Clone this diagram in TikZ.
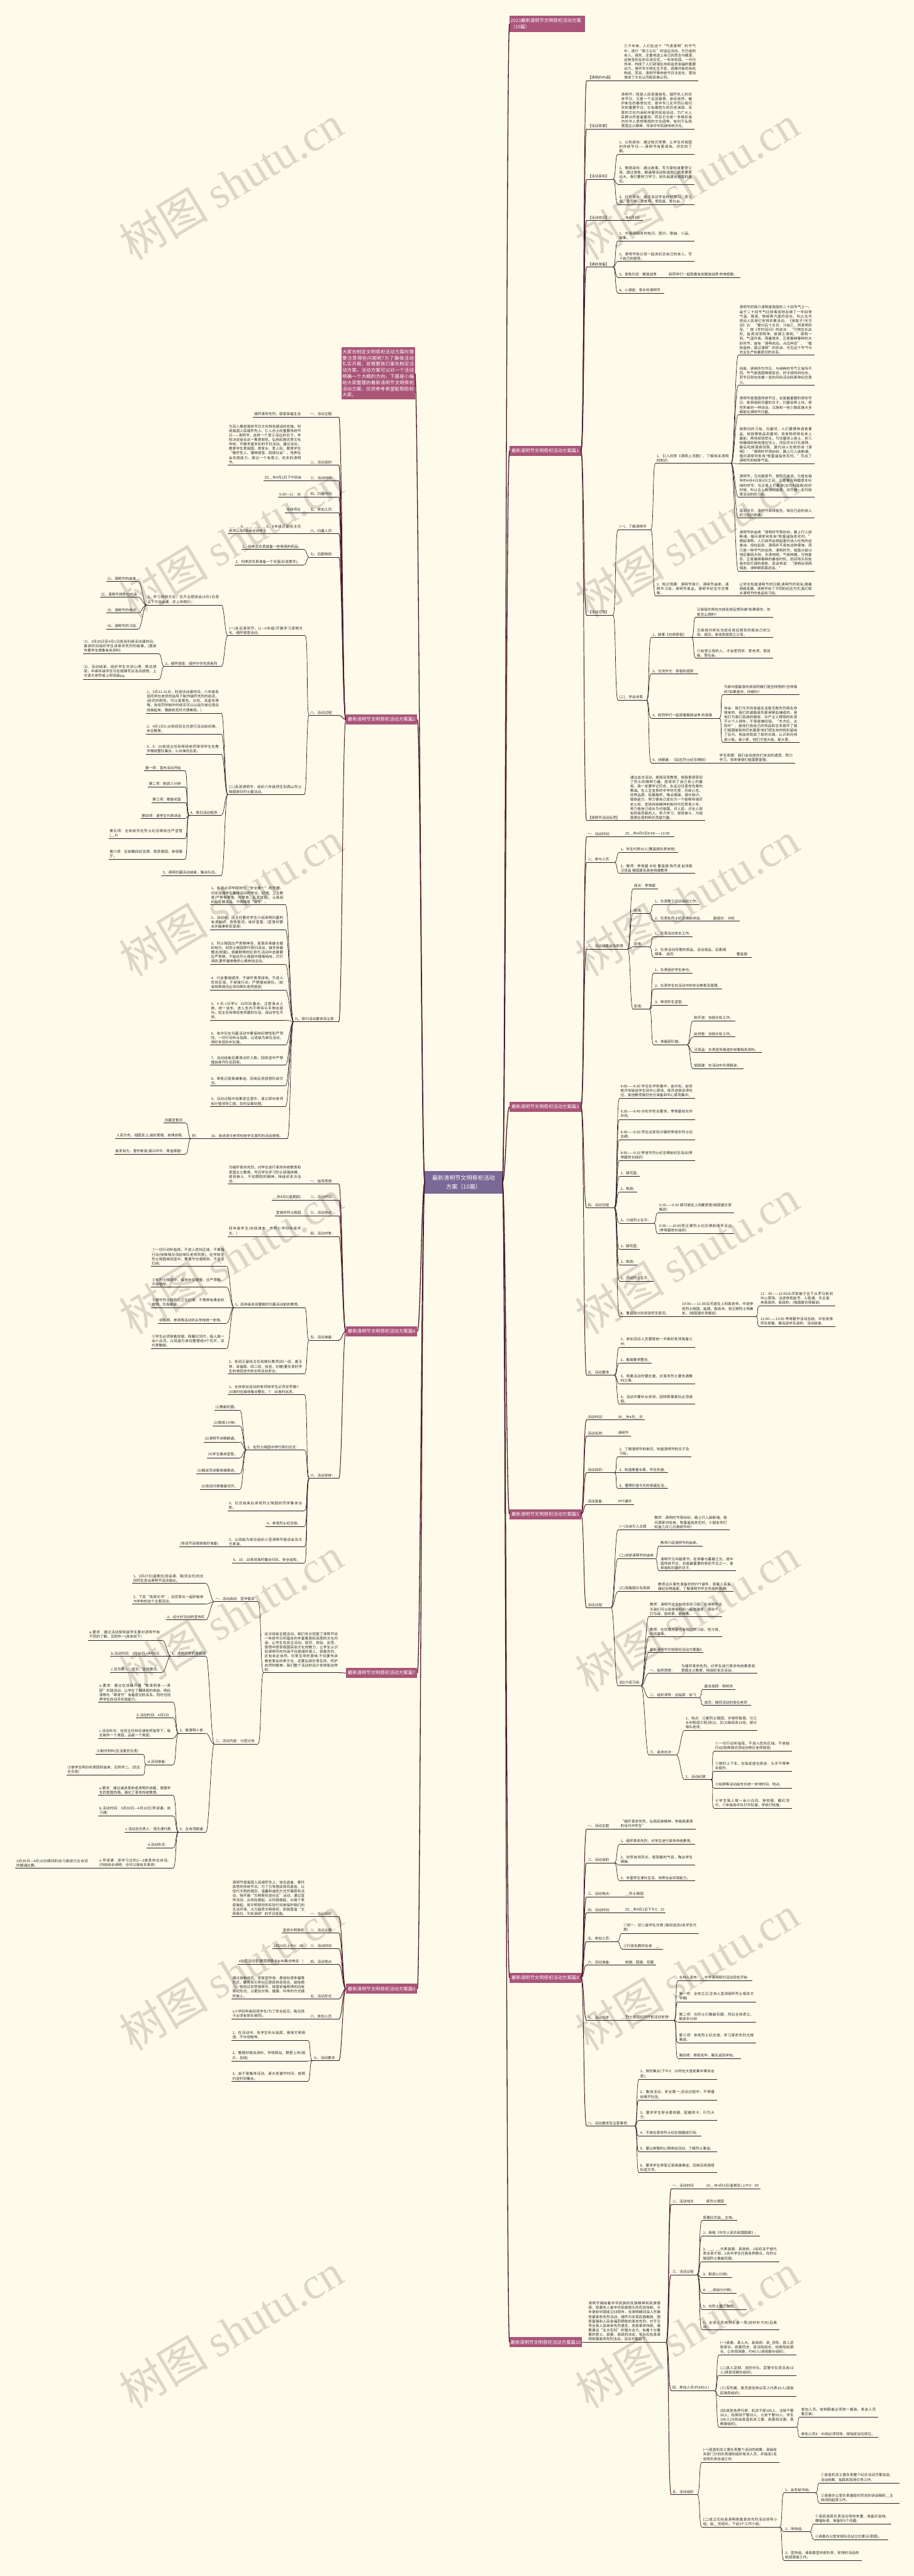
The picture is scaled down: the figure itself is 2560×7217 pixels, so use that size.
\documentclass[tikz,border=0pt]{standalone}
\usepackage{fontspec}
\setmainfont{Noto Sans CJK SC}
\newfontfamily\wmfont{Liberation Serif}
\usetikzlibrary{calc}
\XeTeXlinebreaklocale "zh"
\XeTeXlinebreakskip=0pt plus 1pt
\definecolor{bg}{HTML}{FFFBEB}
\definecolor{pk}{HTML}{AA5578}
\definecolor{pu}{HTML}{7A6896}
\definecolor{ln}{HTML}{4A1B2A}
\definecolor{dk}{HTML}{2B2226}
\definecolor{wm}{HTML}{DAD6C8}
\definecolor{tx}{HTML}{2A2A2A}
\tikzset{
 lf/.style={anchor=south west,inner xsep=0pt,inner ysep=3pt,font=\fontsize{10}{12.6}\selectfont,align=justify,text=tx},
 ls/.style={anchor=south west,inner xsep=0pt,inner ysep=3pt,font=\fontsize{10}{12.6}\selectfont,text=tx},
 ul/.style={draw=dk,line width=1.2pt},
 cn/.style={draw=dk,line width=1.2pt},
 cb/.style={draw=ln,line width=1.7pt},
 mc/.style={draw=ln,line width=2.3pt},
 box/.style={fill=pk,text=white,font=\fontsize{13}{17.5}\selectfont,minimum width=200pt,minimum height=28pt,inner xsep=3pt},
 cbox/.style={fill=pu,text=white,font=\fontsize{16}{24}\selectfont,align=center,minimum width=217pt,minimum height=65pt},
 wmk/.style={text=wm,font=\fontsize{125}{125}\selectfont,rotate=31,inner sep=0pt}
}
\newcommand\Nm[6][]{\def\mytmpw{#1}\ifx\mytmpw\empty\pgfmathsetmacro\mytw{#5-#3-10}\else\def\mytw{#1}\fi
 \node[lf,text width=\mytw pt] (#2) at (#3+3,#4) {#6};
 \draw[ul] (#3,#4) coordinate (#2-l) -- (#5,#4) coordinate (#2-r);}
\newcommand\Ns[5]{\node[ls] (#1) at (#2+3,#3) {#5};
 \draw[ul] (#2,#3) coordinate (#1-l) -- (#4,#3) coordinate (#1-r);}
\newcommand\bx[5]{\node[box,anchor=#2] (#1) at (#3,#4) {#5};
 \coordinate (#1-l) at (#1.west); \coordinate (#1-r) at (#1.east);}
\newcommand\conR[3][cn]{\draw[#1] (#2-r) .. controls +(9,0) and +(-9,0) .. (#3-l);}
\newcommand\conL[3][cn]{\draw[#1] (#2-l) .. controls +(-9,0) and +(9,0) .. (#3-r);}
\begin{document}
\begin{tikzpicture}[x=1pt,y=-1pt]
\useasboundingbox (0,0) rectangle (2560,7217);
\fill[bg] (0,0) rectangle (2560,7217);
% watermarks
\foreach \yy in {512,1515,2518,3521,4524,5527,6530}{
 \node[wmk] at (647,\yy) {树图 {\wmfont shutu.cn}};
 \node[wmk] at (1925,\yy) {树图 {\wmfont shutu.cn}};
}
% center and level-1
\node[cbox] (c) at (1298.5,3312.5) {最新清明节文明祭祀活动\\方案（10篇）};
\coordinate (c-l) at (c.west); \coordinate (c-r) at (c.east);
\node[box,anchor=north west,align=left,text width=206pt,minimum width=212pt,minimum height=47pt] (t0) at (1427,43) {2023最新清明节文明祭祀活动方案\\（10篇）};
\coordinate (t0-l) at (t0.west);
\node[box,anchor=north west,align=justify,text width=200pt,minimum height=146pt,font=\fontsize{13}{17.2}\selectfont] (b0) at (956,973) {大家在制定文明祭祀活动方案时需要注意哪些问题呢?为了确保活动扎实开展，就需要我们事先制定活动方案，活动方案可以对一个活动明确一个大概的方向。下面是小编给大家整理的最新清明节文明祭祀活动方案，仅供参考希望能帮助到大家。};
\coordinate (b0-r) at (b0.east);
\bx{b1}{west}{1427}{1263}{最新清明节文明祭祀活动方案篇1}
\bx{b3}{west}{1427}{3101}{最新清明节文明祭祀活动方案篇3}
\bx{b5}{west}{1427}{4242}{最新清明节文明祭祀活动方案篇5}
\bx{b8}{west}{1427}{5541}{最新清明节文明祭祀活动方案篇8}
\bx{b10}{west}{1427}{6562}{最新清明节文明祭祀活动方案篇10}
\bx{b2}{east}{1169}{2016}{最新清明节文明祭祀活动方案篇2}
\bx{b4}{east}{1169}{3730}{最新清明节文明祭祀活动方案篇4}
\bx{b7}{east}{1169}{4687}{最新清明节文明祭祀活动方案篇7}
\bx{b9}{east}{1169}{5572}{最新清明节文明祭祀活动方案篇9}
\foreach \k in {t0,b1,b3,b5,b8,b10}{\conR[mc]{c}{\k}}
\foreach \k in {b0,b2,b4,b7,b9}{\conL[mc]{c}{\k}}
% ================= 篇1
\Ns{p1a}{1643}{226}{1745}{【清明的内涵】}
\Nm{p1at}{1745}{226}{1956}{几千年来，人们在这个“气清景明”的节气中，进行“祭之以礼”的追远活动，为已逝的亲人、祖先，庄重地送上自己的思念与敬意。这种圣的生命交流仪式，一年年轮回、一代代传承，构成了人们顽强生存和追求幸福的重要动力，是中华文明生生不息、续展开新的有机构成，而且，清明节等传统节日法定化，更加增进了文化认同和民族认同。}
\Ns{p1b}{1643}{361}{1737}{【活动背景】}
\Nm{p1bt}{1737}{361}{1945}{清明节，既是人民祭奠祖先、缅怀先人的宗亲节日，又是一个远足踏青、亲近自然、催护新生的春季仪式，是中华儿女共同认祖归宗的重要节日。它有着悠久的历史渊源、深厚的文化内涵和丰富的民俗活动，为广大人民群众所普遍重视，而且它也是一条维系海内外华人思想情感的文化纽带，有利于弘扬爱国主义精神，传承中华民族传统文化。}
\Ns{p1c}{1643}{502}{1717}{【活动目标】}
\Nm{p1c1}{1731}{432}{1945}{1、认知目标：通过知识竞赛，让学生对我国的传统节日——清明节有更具体、详实的了解。}
\Nm{p1c2}{1731}{516}{1945}{2、情感目标：通过故事、写文章知道要爱父母，通过录象、朗诵等活动知道我们的爱要更远大，我们要努力学习，担负起建设祖国的重任。}
\Nm{p1c3}{1731}{573}{1945}{3、行为目标：通过活动学会好好学习、爱父母、爱同学、爱老师、爱班级、爱社会。}
\Ns{p1d}{1643}{618}{1737}{【活动时间】}
\Ns{p1dt}{1737}{618}{1800}{\_\_年4月1日}
\Ns{p1e}{1643}{748}{1717}{【课前准备】}
\Nm{p1e1}{1731}{675}{1945}{1、与清明相关的知识、图片、歌曲、小品、故事。}
\Nm{p1e2}{1731}{732}{1945}{2、清明节和父母一起去纪念自己的亲人，写下自己的感受。}
\Ns{p1e3}{1731}{777}{1870}{3、录象片段：解放战争}
\Ns{p1e3t}{1870}{777}{2073}{和同学们一起观看有关解放战争 的电视剧。}
\Ns{p1e4}{1731}{821}{1861}{4、小调查：家乡的清明节}
\Ns{p1f}{1643}{1723}{1717}{【活动过程】}
\Ns{p1f1}{1731}{1485}{1823}{(一)、了解清明节}
\Nm{p1f1a}{1836}{1298}{2048}{1、引入欣赏《清明上河图》，了解有关清明的知识。}
\Nm{p1f1a1}{2068}{995}{2281}{清明节的简介清明是我国的二十四节气之一。由于二十四节气比较客观地反映了一年四季气温、降雨、物候等方面的变化，所以古代劳动人民用它安排农事活动。《淮南子?天文训》云：“春分后十五日，斗指乙，则清明风至。”按《岁时百问》的说法：“万物生长此时，皆清洁而明净。故谓之清明。”清明一到，气温升高，雨量增多，正是春耕春种的大好时节，故有“清明前后，点瓜种豆”、“植树造林，莫过清明”的农谚。可见这个节气与农业生产有着密切的关系。}
\Nm{p1f1a2}{2068}{1079}{2281}{但是，清明作为节日，与纯粹的节气又有所不同。节气是我国物候变化、时令顺序的标志，而节日则包含着一定的风俗活动和某种纪念意义。}
\Nm{p1f1a3}{2068}{1162}{2281}{清明节是我国传统节日，也是最重要的祭祀节日，是祭祖和扫墓的日子。扫墓俗称上坟，祭祀死者的一种活动。汉族和一些少数民族大多都是在清明节扫墓。}
\Nm{p1f1a4}{2068}{1299}{2281}{按照旧的习俗，扫墓时，人们要携带酒食果品、纸钱等物品到墓地，将食物供祭在亲人墓前，再将纸钱焚化，为坟墓培上新土，折几枝嫩绿的新枝插在坟上，然后叩头行礼祭拜，最后吃掉酒食回家，唐代诗人杜牧的诗《清明》：“清明时节雨纷纷，路上行人欲断魂。借问酒家何处有?牧童遥指杏花村。”写出了清明节的特殊气氛。}
\Nm{p1f1a5}{2068}{1393}{2281}{清明节，又叫踏青节，按阳历来说，它是在每年的4月4日至6日之间，正是春光明媚草木吐绿的时节，也正是人们春游(古代叫踏青)的好时候，所以古人有清明踏青，并开展一系列体育活动的的习俗。}
\Nm{p1f1a6}{2068}{1451}{2281}{直到今天，清明节祭拜祖先，悼念已逝的亲人的习俗仍很盛。}
\Nm{p1f1a7}{2068}{1600}{2281}{清明节的由来“清明时节雨纷纷，路上行人欲断魂。借问酒家何处有?牧童遥指杏花村。”提起清明，人们自然会想起唐代诗人杜牧的这首诗。但在起初，清明并不具有这种意味，而只是一种节气的名称，清明时节，我国大部分地区春回大地，天清地明，气候转暖，万物复苏，正是春耕春种的最佳时机，田间地头到处是农民忙碌的身影，民谚常说：“清明谷雨两相连，浸种耕田莫迟延。”}
\Nm[202]{p1f1b}{1836}{1670}{2068}{2、知识竞赛：清明节简介，清明节由来，清明节习俗，清明节食品，清明节纪念方式等等。}
\Nm{p1f1bt}{2068}{1670}{2281}{让学生知道清明节的日期;清明节的别名;随着网络发展，清明节有了不同的纪念方式;我们家乡清明节的食品和习俗。}
\Ns{p1f2}{1731}{1962}{1811}{(二)、学会去爱}
\Ns{p1f2a}{1824}{1786}{1937}{1、故事《刘邦祭祖》}
\Nm{p1f2a1}{1949}{1729}{2165}{汉高祖刘邦在功成名就后想到谁?如果是你，你是怎么想的?}
\Nm{p1f2a2}{1949}{1786}{2165}{汉高祖刘邦在功成名就后想到的是自己的父母、祖宗。身体发肤受之父母，}
\Nm{p1f2a3}{1949}{1844}{2165}{只有爱父母的人，才会爱同学、爱老师、爱班级、爱社会。}
\Ns{p1f2b}{1824}{1888}{1956}{2、交流作文：祭祖的感受}
\Ns{p1f2c}{1824}{2012}{2015}{3、和同学们一起观看解放战争 的录像}
\Nm{p1f2c1}{2025}{1946}{2240}{为新中国献身的叔叔阿姨们是怎样想的?怎样做的?如果是你，你敢吗?}
\Nm{p1f2c2}{2025}{2080}{2240}{体会：我们今天的幸福生活是无数先烈用生命换来的，我们的道路是先辈用鲜血铺成的，是他们为我们民族的解放，共产主义理想的实现不计个人得失，不畏艰难险阻。“东方红，太阳升”，是他们用自己的热血和生命掀开了我们祖国崭新的历史篇章!他们把生存的权利留给了后代，用血肉筑成了新的长城，认识到刘邦是小我，是小爱，他们才是大我，是大爱。}
\Ns{p1f2d}{1824}{2137}{2012}{4、诗朗诵：《站在烈士纪念碑前》}
\Nm{p1f2dt}{2012}{2137}{2227}{学生明理：我们会完成你们未完的遗愿，努力学习，将来使我们祖国更富强。}
\Ns{p1g}{1643}{2299}{1762}{【清明节活动反思】}
\Nm{p1gt}{1762}{2299}{1975}{通过这次活动，使我深受教育，使我更感受到了烈士的精神力量，感受到了自己身上的重担。我一定要牢记历史，永远记住革命先辈的教诲。在人生宝贵的中学时光里，历练心志、修养品质、拓展胸怀、陶冶情操、增长知识、锻炼能力，努力使自己成长为一个能够传递历史火炬，发扬传统精神的新时代优秀青少年，努力使自己成长为对祖国、对人民、对全人类有积极贡献的人。努力学习，艰苦奋斗，为祖国更壮丽的明天贡献力量。}
\foreach \k in {p1a,p1b,p1c,p1d,p1e,p1f,p1g}{\conR[cb]{b1}{\k}}
\foreach \k in {p1c1,p1c2,p1c3}{\conR{p1c}{\k}}
\foreach \k in {p1e1,p1e2,p1e3,p1e4}{\conR{p1e}{\k}}
\foreach \k in {p1f1,p1f2}{\conR{p1f}{\k}}
\foreach \k in {p1f1a,p1f1b}{\conR{p1f1}{\k}}
\foreach \k in {p1f1a1,p1f1a2,p1f1a3,p1f1a4,p1f1a5,p1f1a6,p1f1a7}{\conR{p1f1a}{\k}}
\foreach \k in {p1f2a,p1f2b,p1f2c,p1f2d}{\conR{p1f2}{\k}}
\foreach \k in {p1f2a1,p1f2a2,p1f2a3}{\conR{p1f2a}{\k}}
\foreach \k in {p1f2c1,p1f2c2}{\conR{p1f2c}{\k}}
% ================= 篇3
\Ns{p3a}{1643}{2344}{1748}{一、活动时间：}
\Ns{p3at}{1748}{2344}{1888}{20\_\_年4月5日8:00——13:00}
\Ns{p3b}{1643}{2416}{1721}{二、参与人员}
\Ns{p3b1}{1735}{2388}{1900}{1、学生代表10人(曹昌银负责安排)}
\Nm{p3b2}{1735}{2447}{1947}{2、教师：李常碧 许松 曹昌银 陈开进 赵世乾 汪贤品 喻国建及其他特邀教师}
\Ns{p3c}{1643}{2659}{1758}{三、活动组委会及职责}
\Ns{p3c1}{1773}{2490}{1843}{组长：李常碧}
\Ns{p3c2}{1773}{2559}{1819}{职责：}
\Ns{p3c2a}{1831}{2535}{1960}{1、负责整个活动组织工作;}
\Ns{p3c2b}{1831}{2580}{1995}{2、负责在烈士纪念碑前讲话。}
\Ns{p3c2bt}{1995}{2580}{2072}{副组长：许松}
\Ns{p3c3}{1773}{2653}{1819}{职责：}
\Ns{p3c3a}{1831}{2624}{1940}{1、负责活动安全工作;}
\Nm[200]{p3c3b}{1831}{2682}{2060}{2、负责活动所需的祭品、活动用品、后勤保障等。 成员：}
\Ns{p3c3bt}{2060}{2682}{2106}{曹昌银}
\Ns{p3c4}{1773}{2827}{1819}{职责：}
\Ns{p3c4a}{1831}{2726}{1940}{1、负责组织学生参与;}
\Ns{p3c4b}{1831}{2771}{2023}{2、负责学生在活动中的安全教育及管理;}
\Ns{p3c4c}{1831}{2816}{1925}{3、带领学生宣誓;}
\Ns{p3c4d}{1831}{2927}{1925}{4、准备团队旗。}
\Ns{p3c4d1}{1941}{2860}{2060}{陈开进：协助许松工作。}
\Ns{p3c4d2}{1941}{2905}{2060}{赵世乾：协助许松工作。}
\Ns{p3c4d3}{1941}{2949}{2133}{汪贤品：负责宣传报道并收集相关资料。}
\Ns{p3c4d4}{1941}{2994}{2082}{喻国建：在活动中负责解说。}
\Ns{p3d}{1643}{3384}{1721}{四、活动日程}
\Nm{p3d1}{1735}{3077}{1947}{8:00——8:30 学生在学校集中，由许松、赵世乾开车接送学生到中心菜场，陈开进联系停车位，其他教师做好充分准备到中心菜场集中。}
\Nm{p3d2}{1735}{3136}{1947}{8:30——8:40 许松作安全要求，李常碧校长作补充;}
\Nm{p3d3}{1735}{3193}{1947}{8:40——8:50 师生出发到沙塘桥李旭华烈士纪念碑;}
\Nm{p3d4}{1735}{3251}{1947}{8:50——9:10 李旭华烈士纪念碑前纪念活动(李常碧校长组织)}
\Ns{p3d5}{1735}{3296}{1792}{1、献花篮;}
\Ns{p3d6}{1735}{3340}{1785}{2、默哀;}
\Ns{p3d7}{1735}{3427}{1831}{3、介绍烈士生平;}
\Nm{p3d7a}{1843}{3398}{2056}{9:10——9:30 顺河道往上到戴家堡(喻国建负责解说)}
\Nm{p3d7b}{1843}{3456}{2056}{9:30——10:00吴正卿烈士纪念碑前缅怀活动(李常碧校长组织)}
\Ns{p3d8}{1735}{3500}{1792}{1、献花篮;}
\Ns{p3d9}{1735}{3544}{1785}{2、默哀;}
\Ns{p3d10}{1735}{3589}{1831}{3、介绍烈士生平;}
\Ns{p3d11}{1735}{3688}{1907}{4、曹昌银分别领读师生誓词。}
\Nm{p3d11t}{1907}{3688}{2117}{10:00——11:00沿河道往上到高岩寺。中途参观烈士陵园、盐碉、高岩寺、吴正卿烈士殉难处。(喻国建负责解说)}
\Nm{p3d11a}{2127}{3659}{2340}{11：00——12:00从邓家巷子往下从罗马街到中心菜场。沿途参观盐号、人胜通、天主堂、老县政府、县政府。(喻国建负责解说)}
\Nm{p3d11b}{2127}{3716}{2340}{12:00——13:00 李常碧作活动总结，许松安排师生就餐，餐后送学生返校，活动结束。}
\Ns{p3e}{1643}{3853}{1721}{五、活动要求}
\Nm{p3e1}{1735}{3774}{1947}{1、参加活动人员要提前一天做好各项准备工作;}
\Ns{p3e2}{1735}{3819}{1825}{2、着装要求整洁;}
\Nm{p3e3}{1735}{3877}{1947}{3、祭奠活动时要庄重，对革命烈士要充满敬仰之情;}
\Nm{p3e4}{1735}{3934}{1947}{4、活动中要听从安排，因特殊事离队必须请假。}
\foreach \k in {p3a,p3b,p3c,p3d,p3e}{\conR[cb]{b3}{\k}}
\foreach \k in {p3b1,p3b2}{\conR{p3b}{\k}}
\foreach \k in {p3c1,p3c2,p3c3,p3c4}{\conR{p3c}{\k}}
\foreach \k in {p3c2a,p3c2b}{\conR{p3c2}{\k}}
\foreach \k in {p3c3a,p3c3b}{\conR{p3c3}{\k}}
\foreach \k in {p3c4a,p3c4b,p3c4c,p3c4d}{\conR{p3c4}{\k}}
\foreach \k in {p3c4d1,p3c4d2,p3c4d3,p3c4d4}{\conR{p3c4d}{\k}}
\foreach \k in {p3d1,p3d2,p3d3,p3d4,p3d5,p3d6,p3d7,p3d8,p3d9,p3d10,p3d11}{\conR{p3d}{\k}}
\foreach \k in {p3d7a,p3d7b}{\conR{p3d7}{\k}}
\foreach \k in {p3d11a,p3d11b}{\conR{p3d11t}{\k}}
\foreach \k in {p3e1,p3e2,p3e3,p3e4}{\conR{p3e}{\k}}
% ================= 篇5
\Ns{p5a}{1643}{3978}{1728}{活动时间：}
\Ns{p5at}{1728}{3978}{1806}{20\_\_年4月\_\_日}
\Ns{p5b}{1643}{4023}{1728}{活动名称：}
\Ns{p5bt}{1728}{4023}{1768}{清明节}
\Ns{p5c}{1643}{4126}{1721}{活动目的：}
\Nm{p5c1}{1731}{4081}{1937}{1、了解清明节的来历。知道清明节的日子及习俗。}
\Ns{p5c2}{1731}{4126}{1872}{2、知道尊重长辈、怀念先祖。}
\Ns{p5c3}{1731}{4170}{1872}{3、懂得珍惜今天的幸福生活。}
\Ns{p5d}{1643}{4215}{1728}{活动准备：}
\Ns{p5dt}{1728}{4215}{1776}{PPT课件}
\Ns{p5e}{1643}{4504}{1712}{活动过程：}
\Ns{p5e1}{1731}{4286}{1830}{(一)古诗引入主题}
\Nm{p5e1t}{1830}{4286}{2043}{教师：清明时节雨纷纷，路上行人欲断魂。借问酒家何处有，牧童遥指杏花村。小朋友你们知道几月几日清明节吗?}
\Ns{p5e2}{1731}{4367}{1835}{(二)讲述清明节的由来}
\Ns{p5e2a}{1847}{4331}{1968}{教师介绍清明节的由来。}
\Nm{p5e2b}{1847}{4401}{2061}{清明节又叫踏青节。在仲春与暮春之交。是中国传统节日，也是最重要的祭祀节日之一，是祭祖和扫墓的日子。}
\Ns{p5e3}{1731}{4459}{1840}{(三)观看图片及视频}
\Nm{p5e3t}{1840}{4459}{2054}{教师出示事先准备好的PPT课件，观看人民英雄纪念碑画面，了解清明节怀念先祖的视频。}
\Ns{p5e4}{1731}{4723}{1796}{(四)介绍习俗}
\Nm[202]{p5e4a}{1817}{4529}{2023}{教师：清明节这天有很多的习俗，在清明节这天我们可以和爸爸妈妈一起去踏青、荡秋千、打马球、放风筝、植树等。}
\Nm[202]{p5e4b}{1817}{4586}{2023}{教师：在饮食方面也有相应的习俗，吃冷食、吃鸡蛋等。}
\Ns{p5e4c}{1817}{4630}{1970}{最新清明节文明祭祀活动方案篇6}
\Ns{p5e4d}{1817}{4688}{1905}{一、指导思想：}
\Nm{p5e4dt}{1905}{4688}{2122}{为缅怀革命先烈。对学生进行革命传统教育和爱国主义教育，特组织本次活动。}
\Ns{p5e4e}{1817}{4756}{1958}{二、组织领导：总指挥：徐飞}
\Ns{p5e4e1}{1970}{4733}{2060}{副总指挥：陈树庆}
\Ns{p5e4e2}{1970}{4778}{2103}{成员：随同活动的各位老师}
\Ns{p5e4f}{1817}{4917}{1895}{三、具体办法：}
\Nm[200]{p5e4f1}{1917}{4848}{2122}{1、地点：江都烈士陵园、许晓轩故居、引江水利枢纽工程;四(3)、五(3)每班各10名，部分带队老师;}
\Ns{p5e4f2}{1917}{4986}{1992}{2、活动纪律：}
\Nm{p5e4f2a}{2000}{4906}{2218}{①一切行动听指挥，不进入危险区域。不单独行动(特殊情况须经向带队老师报告)}
\Nm{p5e4f2b}{2000}{4963}{2218}{②按时上下车，在指定座位就坐，头手不得伸出窗外;}
\Ns{p5e4f2c}{2000}{5009}{2218}{③拍照等活动由车长统一安排时间、地点;}
\Nm{p5e4f2d}{2000}{5066}{2218}{④学生每人做一朵小白花，穿校服、戴红领巾，六年级各中队打中队旗，学校打校旗。}
\foreach \k in {p5a,p5b,p5c,p5d,p5e}{\conR[cb]{b5}{\k}}
\foreach \k in {p5c1,p5c2,p5c3}{\conR{p5c}{\k}}
\foreach \k in {p5e1,p5e2,p5e3,p5e4}{\conR{p5e}{\k}}
\foreach \k in {p5e2a,p5e2b}{\conR{p5e2}{\k}}
\foreach \k in {p5e4a,p5e4b,p5e4c,p5e4d,p5e4e,p5e4f}{\conR{p5e4}{\k}}
\foreach \k in {p5e4e1,p5e4e2}{\conR{p5e4e}{\k}}
\foreach \k in {p5e4f1,p5e4f2}{\conR{p5e4f}{\k}}
\foreach \k in {p5e4f2a,p5e4f2b,p5e4f2c,p5e4f2d}{\conR{p5e4f2}{\k}}
% ================= 篇8
\Ns{p8a}{1643}{5124}{1735}{一、活动主题}
\Nm{p8at}{1735}{5124}{1948}{“缅怀革命先烈，弘扬民族精神，争做高素质的当代中学生”}
\Ns{p8b}{1643}{5219}{1721}{二、活动目的}
\Nm{p8b1}{1735}{5167}{1947}{1、缅怀革命先烈，对学生进行革命传统教育;}
\Nm{p8b2}{1735}{5225}{1947}{2、欣赏自然风光，感受春的气息，陶冶学生情操;}
\Nm{p8b3}{1735}{5269}{1947}{3、丰富学生课外生活，培养社会实践能力。}
\Ns{p8c}{1643}{5314}{1748}{三、活动地点：}
\Ns{p8ct}{1748}{5314}{1805}{\_\_烈士陵园}
\Ns{p8d}{1643}{5359}{1748}{四、活动时间：}
\Ns{p8dt}{1748}{5359}{1864}{20\_\_年4月1日下午3：15}
\Ns{p8e}{1643}{5439}{1729}{五、参加人员：}
\Nm{p8e1}{1743}{5416}{1958}{①初一、初二级学生代表:(每班选派2名学生代表)}
\Ns{p8e2}{1743}{5460}{1857}{②行政及教师名单：\_\_}
\Ns{p8f}{1643}{5505}{1748}{六、活动准备：}
\Ns{p8ft}{1748}{5505}{1837}{校旗、团旗、花圈}
\Ns{p8g}{1643}{5660}{1738}{七、活动程序}
\Ns{p8gt}{1738}{5660}{1888}{\_\_烈士陵园纪念杯前活动安排：}
\Ns{p8g1}{1899}{5549}{2107}{主持人宣布：\_\_中学清明祭扫活动现在开始}
\Nm{p8g2}{1899}{5608}{2118}{第一项：全体立正(主持人宣读缅怀烈士相关文字稿)}
\Nm{p8g3}{1899}{5665}{2118}{第二项：向烈士们敬献花圈，然后全体肃立，默哀半分钟}
\Nm{p8g4}{1899}{5723}{2118}{第三项：参观烈士纪念馆，学习革命先烈光辉事迹。}
\Ns{p8g5}{1899}{5767}{2076}{第四项：参观完毕，集队返回学校。}
\Ns{p8h}{1643}{5956}{1778}{八、活动要求及注意事项：}
\Nm{p8h1}{1790}{5825}{2008}{1、按时集合(下午3：15时在大堂前集中乘车出发);}
\Nm{p8h2}{1790}{5883}{2008}{2、集体活动，安全第一;活动过程中，不得擅自离开队伍;}
\Nm{p8h3}{1790}{5940}{2008}{3、要求学生穿全套校服，配戴校卡，行为大方;}
\Ns{p8h4}{1790}{5985}{1964}{4、不准在革命烈士纪念馆嬉戏打闹;}
\Ns{p8h5}{1790}{6029}{2008}{5、要以崇敬的心情参加活动，了解烈士事迹;}
\Nm{p8h6}{1790}{6087}{2008}{6、要求学生带笔记录英雄事迹，回来后将感想形成文字。}
\foreach \k in {p8a,p8b,p8c,p8d,p8e,p8f,p8g,p8h}{\conR[cb]{b8}{\k}}
\foreach \k in {p8b1,p8b2,p8b3}{\conR{p8b}{\k}}
\foreach \k in {p8e1,p8e2}{\conR{p8e}{\k}}
\foreach \k in {p8g1,p8g2,p8g3,p8g4,p8g5}{\conR{p8gt}{\k}}
\foreach \k in {p8h1,p8h2,p8h3,p8h4,p8h5,p8h6}{\conR{p8h}{\k}}
% ================= 篇10
\Nm[202]{p10}{1645}{6562}{1866}{清明节凝结着中华民族的民族精神和民族情感，祭奠先人是中华民族悠久的优良传统。今年是新中国成立68周年，在清明期间深入开展祭奠革命先烈活动，缅怀为实现民族解放、国家富强和人民幸福而牺牲的革命先烈，对于引导全县人民继承先烈遗志，发扬革命传统，凝聚建设“五大石柱”的强大合力，有着十分重要的意义。县委、县政府决定，举办石柱县清明祭奠革命先烈活动，活动方案如下：}
\draw[cb] (b10-r) -- (p10-l);
\Ns{p10a}{1880}{6132}{1975}{一、活动时间}
\Ns{p10at}{1975}{6132}{2131}{20\_\_年4月3日(星期五)上午9：00}
\Ns{p10b}{1880}{6176}{1975}{二、活动地点}
\Ns{p10bt}{1975}{6176}{2035}{县烈士陵园}
\Ns{p10c}{1880}{6373}{1953}{三、活动议程}
\Ns{p10c0}{1966}{6221}{2065}{祭奠仪式由\_\_主持。}
\Ns{p10c1}{1966}{6265}{2128}{1、奏唱《中华人民共和国国歌》;}
\Nm{p10c2}{1966}{6336}{2183}{2、\_\_、\_\_代表县委、县政府，2名机关干部代表全县干部，2名中学生代表各界群众，向烈士陵园烈士敬献花圈;}
\Ns{p10c3}{1966}{6381}{2051}{3、默哀(1分钟);}
\Ns{p10c4}{1966}{6424}{2064}{4、\_\_讲话(5分钟);}
\Ns{p10c5}{1966}{6470}{2092}{5、向烈士墓三鞠躬;}
\Nm{p10c6}{1966}{6527}{2183}{6、全体人员绕烈士墓一周(逆时针方向)后离场。}
\Ns{p10d}{1880}{6698}{2002}{四、参加人员(约380人)}
\Nm{p10d1}{2014}{6598}{2230}{(一)县委、县人大、县政府、县\_领导、县人武部部长、政委同志，县法院院长、检察院检察长、公安局政委，约40人(请县委办组织);}
\Nm{p10d2}{2014}{6655}{2230}{(二)县人武部、消防中队、武警中队官兵各10人(请县双拥办组织);}
\Nm{p10d3}{2014}{6713}{2230}{(三)军烈属、复员退伍转业军人代表10人(请县民政局组织);}
\Nm{p10d4}{2014}{6800}{2230}{(四)其他各界代表：机关干部100人、法院干警30人，检察院干警20人，公安干警50人、学生100人(分别由县直机关工委、县委政法委、县教委组织)。}
\Nm{p10d4a}{2241}{6771}{2460}{参加人员，有制服者必须统一着装，其余人员着正装。}
\Nm{p10d4b}{2241}{6828}{2460}{参加人员8：45前必须到场，按指定站位就位。}
\Ns{p10e}{1880}{6989}{1953}{五、活动组织}
\Nm{p10e1}{1966}{6898}{2183}{(一)县直机关工委负责整个活动的统筹，县级有关部门分别负责通知组织有关人员，并指定1名领导负责协调工作;}
\Nm{p10e2}{1966}{7080}{2184}{(二)成立石柱县清明祭奠革命先烈活动领导小组，由\_\_任组长。下设3个工作小组。}
\Ns{p10e2a}{2196}{6984}{2284}{1、会务秘书组。}
\Nm[203]{p10e2a1}{2296}{6956}{2520}{①县直机关工委负责整个纪念活动方案拟定、活动统筹、指挥和现场引导工作;}
\Nm[203]{p10e2a2}{2296}{7013}{2520}{②县委办公室负责盛娅农同志的讲话稿和\_\_主持词的起草工作。}
\Ns{p10e2b}{2196}{7093}{2268}{2、场地组。}
\Nm{p10e2b1}{2280}{7071}{2497}{①县民政局负责活动场地布置，准备好音响、横幅标语，准备好3个花圈;}
\Ns{p10e2b2}{2280}{7115}{2487}{②县委办公室安排队伍站立位置(示意图)。}
\Nm{p10e2c}{2196}{7173}{2413}{3、宣传组。请县委宣传部负责，安排好活动的新闻报道工作。}
\foreach \k in {p10a,p10b,p10c,p10d,p10e}{\conR[cb]{p10}{\k}}
\foreach \k in {p10c0,p10c1,p10c2,p10c3,p10c4,p10c5,p10c6}{\conR{p10c}{\k}}
\foreach \k in {p10d1,p10d2,p10d3,p10d4}{\conR{p10d}{\k}}
\foreach \k in {p10d4a,p10d4b}{\conR{p10d4}{\k}}
\foreach \k in {p10e1,p10e2}{\conR{p10e}{\k}}
\foreach \k in {p10e2a,p10e2b,p10e2c}{\conR{p10e2}{\k}}
\foreach \k in {p10e2a1,p10e2a2}{\conR{p10e2a}{\k}}
\foreach \k in {p10e2b1,p10e2b2}{\conR{p10e2b}{\k}}
% ================= 篇2 (left)
\Ns{q2a}{866}{1168}{949}{一、活动主题：}
\Ns{q2at}{709}{1168}{866}{缅怀革命先烈，感恩幸福生活}
\Ns{q2b}{866}{1303}{949}{二、活动目的：}
\Nm[202]{q2bt}{638}{1303}{866}{为深入推进我校节日文化特色建设的实施，利用我国人民缅怀先人、仁人志士的重要传统节日——清明节。这样一个意义深远的日子，学校决定结合这一教育契机，弘扬民族优秀文化传统，开展丰富多彩的节日活动。通过活动，教育学生爱祖国、爱家乡、爱人民，教育学生“敬怀先人、懂得感恩、回报社会”，培养社会实践能力，度过一个有意义、充实的清明节。}
\Ns{q2c}{866}{1347}{949}{三、活动时间：}
\Ns{q2ct}{738}{1347}{866}{20\_\_年4月1日下午班会}
\Ns{q2d}{866}{1392}{949}{四、扫墓时间：}
\Ns{q2dt}{779}{1392}{866}{9:30—11：30}
\Ns{q2e}{866}{1436}{949}{五、参加人员：}
\Ns{q2et}{799}{1436}{866}{全体师生}
\Ns{q2f}{866}{1495}{949}{六、扫墓人员：}
\Nm[202]{q2ft}{638}{1495}{866}{\_\_、\_\_X、\_\_、\_\_、\_\_X、6年级正副班主任老师以及6年级全体学生}
\Ns{q2g}{866}{1561}{949}{七、后勤物资：}
\Ns{q2g1}{676}{1539}{851}{1、何孝武负责准备一些常用的药品。}
\Ns{q2g2}{657}{1583}{851}{2、何孝武负责准备一个花篮(红底黄字)。}
\Ns{q2h}{866}{2004}{949}{八、活动过程：}
\Nm{q2h1}{638}{1781}{855}{(一)走近清明节，(1—6年级)开展学习清明文化、缅怀感恩活动。}
\Nm{q2h1a}{410}{1695}{620}{1、学习清明文化，召开主题班会(4月1日周五下午班会课，并上传照片)：}
\Ns{q2h1a1}{298}{1629}{388}{⑴、清明节的由来}
\Ns{q2h1a2}{280}{1673}{388}{⑵、清明节的文化内涵}
\Ns{q2h1a3}{298}{1717}{388}{⑶、清明节的传说}
\Ns{q2h1a4}{298}{1762}{388}{⑷、清明节的习俗}
\Ns{q2h1b}{460}{1867}{620}{2、缅怀感恩：缅怀中华先贤英烈}
\Nm{q2h1b1}{232}{1832}{445}{⑴、3月30日至4月1日各班利用活动课时间、晨读时间组织学生讲革命先烈的故事。(提前布置学生搜集有关资料)}
\Nm{q2h1b2}{232}{1903}{445}{⑵、活动结束，组织学生交流心得，表达感受，中高年级学生可在假期写出活动感悟，上交语文老师或上传班级qq。}
\Nm{q2h2}{638}{2226}{852}{(二)走进清明节，组织六年级师生到西山烈士陵园祭扫烈士墓活动。}
\Nm{q2h2a}{408}{1998}{620}{1、3月21-31日，利用活动课时间，六年级各班同学在老师的指导下制作缅怀先烈的纸花。(纸花的颜色，可以是黄色、白色、浅蓝色等等。各班同学制作的纸花可以以组为单位用白线串起来，敬献纸花时方便美观。)}
\Nm{q2h2b}{408}{2056}{620}{2、4月1日9:10各班班主任进行活动前纪律、安全教育。}
\Nm{q2h2c}{408}{2113}{620}{3、9：20各班主任和带班老师带领学生在教学楼前整队集合，9:30准时出发。}
\Ns{q2h2d}{530}{2284}{620}{4、祭扫活动程序}
\Ns{q2h2d1}{404}{2159}{518}{第一项：宣布活动开始}
\Ns{q2h2d2}{414}{2204}{518}{第二项：默哀三分钟}
\Ns{q2h2d3}{424}{2248}{518}{第三项：敬献花篮}
\Ns{q2h2d4}{394}{2293}{518}{第四项：请学生代表讲话}
\Nm{q2h2d5}{304}{2350}{518}{第五项：全体成员在烈士纪念碑前庄严宣誓(\_\_X)}
\Nm{q2h2d6}{304}{2407}{518}{第六项：近前瞻仰纪念碑、观赏陵园、参观展厅。}
\Ns{q2h2e}{453}{2453}{620}{5、清明扫墓活动结束，集合队伍。}
\Ns{q2i}{822}{2862}{949}{九、祭扫活动要求及注意：}
\Nm{q2i1}{588}{2535}{800}{1、各班必须牢固树立“安全第一”的思想，切实加强学生集体活动的安全、纪律、卫生教育(严禁带零食、吃零食，乱丢垃圾)。认真组织和开展活动，不得随意“放羊”。}
\Nm{q2i2}{588}{2605}{800}{2、活动前，班主任要对学生介绍清明扫墓的有关知识，背熟誓词，练好宣誓。(宣誓时要右手握拳举至耳旁).}
\Nm{q2i3}{588}{2702}{800}{3、烈士陵园庄严肃穆神圣，是革命英雄长眠的地方。到烈士陵园举行祭扫活动，首先穿着整洁(校服)。佩戴鲜艳的红领巾;活动中态度要庄严肃穆，不能在烈士陵园中嘻嘻哈哈，打打闹闹;要怀着崇敬的心情参加活动。}
\Nm{q2i4}{588}{2774}{800}{4、行走要按顺序，不破坏青草绿地。不进入危险区域，不单独行动，严禁擅自离队。(如有特殊情况必须向带队老师报告)}
\Nm{q2i5}{588}{2858}{800}{5、4 月 1日早9：20列队集合，注意清点人数，统一坐车，进入车内不得将头手伸出窗外。班主任和带班老师跟好队伍，保证学生平安。}
\Nm{q2i6}{588}{2928}{800}{6、各中队在扫墓活动中要保持纪律性和严肃性。一切行动听从指挥，以班级为单位活动，带好本班的中队旗。}
\Nm{q2i7}{588}{2984}{800}{7、活动结束后要清点好人数。回校途中严禁擅自离开队伍回家。}
\Nm{q2i8}{588}{3042}{800}{8、带笔记录英雄事迹。回来后将感想形成文字。}
\Nm{q2i9}{588}{3100}{800}{9、活动过程中如果发生意外，请立即向老师和分管领导汇报，及时妥善处理。}
\Nm[202]{q2i10}{588}{3190}{805}{10、各班语文老师检查学生撰写的活动感悟。}
\Ns{q2i10a}{535}{3190}{588}{附：}
\Ns{q2i10a1}{458}{3146}{520}{扫墓宣誓词}
\Ns{q2i10a2}{323}{3190}{520}{人民为先，祖国至上;诚实勇敢，自律自强;}
\Ns{q2i10a3}{320}{3233}{520}{奋发有为，誓作栋梁;振兴中华，再造辉煌!}
\foreach \k in {q2a,q2b,q2c,q2d,q2e,q2f,q2g,q2h,q2i}{\conL[cb]{b2}{\k}}
\foreach \k in {q2g1,q2g2}{\conL{q2g}{\k}}
\foreach \k in {q2h1,q2h2}{\conL{q2h}{\k}}
\foreach \k in {q2h1a,q2h1b}{\conL{q2h1}{\k}}
\foreach \k in {q2h1a1,q2h1a2,q2h1a3,q2h1a4}{\conL{q2h1a}{\k}}
\foreach \k in {q2h1b1,q2h1b2}{\conL{q2h1b}{\k}}
\foreach \k in {q2h2a,q2h2b,q2h2c,q2h2d,q2h2e}{\conL{q2h2}{\k}}
\foreach \k in {q2h2d1,q2h2d2,q2h2d3,q2h2d4,q2h2d5,q2h2d6}{\conL{q2h2d}{\k}}
\foreach \k in {q2i1,q2i2,q2i3,q2i4,q2i5,q2i6,q2i7,q2i8,q2i9,q2i10}{\conL{q2i}{\k}}
\foreach \k in {q2i10a1,q2i10a2,q2i10a3}{\conL{q2i10a}{\k}}
% ================= 篇4
\Ns{q4a}{866}{3317}{949}{一、指导思想：}
\Nm[202]{q4at}{638}{3317}{866}{为缅怀革命先烈。对学生进行革命传统教育和爱国主义教育。号召学生学习烈士顽强拼搏、艰苦奋斗、不怕牺牲的精神，特组织本次活动。}
\Ns{q4b}{866}{3362}{949}{二、活动时间：}
\Ns{q4bt}{761}{3362}{866}{\_\_年4月2(星期四)}
\Ns{q4c}{866}{3406}{949}{三、活动地点：}
\Ns{q4ct}{770}{3406}{866}{宣城市烈士陵园}
\Ns{q4d}{866}{3464}{949}{四、活动对象：}
\Nm[202]{q4dt}{638}{3464}{866}{四年级学生(包括城东、东桥小学四年级学生。)}
\Ns{q4e}{866}{3755}{949}{五、活动准备：}
\Ns{q4e1}{655}{3663}{853}{1、四年级各班要做好扫墓活动前的教育。}
\Nm{q4e1a}{422}{3548}{635}{①一切行动听指挥，不进入危险区域，不单独行动(特殊情况须经带队老师同意)。在学校至烈士陵园来回途中，要遵守交通规则，不追逐打闹。}
\Nm{q4e1b}{422}{3606}{635}{②在烈士陵园中，保持步伐缓慢，庄严肃穆，不得喧哗。}
\Nm{q4e1c}{422}{3663}{635}{③遵守烈士陵园的卫生纪律，不携带有果皮的食物，垃圾装袋。}
\Ns{q4e1d}{443}{3707}{635}{④拍照、参观等活动听从学校统一安排。}
\Nm{q4e1e}{422}{3778}{635}{⑤学生必须穿着校服，佩戴红领巾，每人做一朵小白花。以班级为单位整理成4个花环，派代表敬献。}
\Nm{q4e2}{638}{3849}{853}{2、各班正副班主任和随队教师(四一班，唐玉琴，卓福辉，四二班，张昱，刘姗)要负责好学生的来回途中安全和活动安全。}
\Ns{q4f}{866}{4142}{949}{六、活动安排：}
\Nm{q4f1}{638}{3907}{853}{1、全体参加活动的老师和学生必须在早晨7：20准时在操场集合整队，7：30准时出发。}
\Ns{q4f2}{690}{4062}{853}{2、在烈士陵园中举行祭扫仪式：}
\Ns{q4f2a}{600}{3951}{672}{(1)敬献花圈。}
\Ns{q4f2b}{596}{3995}{672}{(2)默哀1分钟。}
\Ns{q4f2c}{570}{4040}{672}{(3)清明节诗歌朗诵。}
\Ns{q4f2d}{580}{4084}{672}{(4)学生集体宣誓。}
\Ns{q4f2e}{550}{4129}{672}{(5)解说员讲解英雄事迹。}
\Ns{q4f2f}{561}{4173}{672}{(6)各班代表敬献花环。}
\Nm{q4f3}{638}{4232}{853}{3、仪式结束后参观烈士陵园的同学集体合影。}
\Ns{q4f4}{744}{4276}{853}{4、参观烈士纪念馆。}
\Nm{q4f5}{638}{4334}{853}{5、以班级为单位组织小型清明节座谈会及文艺表演。}
\Ns{q4f5a}{502}{4334}{638}{(各班节目提前做好准备)}
\Ns{q4f6}{650}{4379}{853}{6、10：20各班准时集合归队，安全返校。}
\foreach \k in {q4a,q4b,q4c,q4d,q4e,q4f}{\conL[cb]{b4}{\k}}
\foreach \k in {q4e1,q4e2}{\conL{q4e}{\k}}
\foreach \k in {q4e1a,q4e1b,q4e1c,q4e1d,q4e1e}{\conL{q4e1}{\k}}
\foreach \k in {q4f1,q4f2,q4f3,q4f4,q4f5,q4f6}{\conL{q4f}{\k}}
\foreach \k in {q4f2a,q4f2b,q4f2c,q4f2d,q4f2e,q4f2f}{\conL{q4f2}{\k}}
% ================= 篇7
\Nm[205]{q7}{738}{4686}{949}{这次班级主题活动，我们充分挖掘了清明节这一传统节日所蕴含的丰富寓意和深厚的文化内涵，让学生在自主活动、探究、体验、反思、感悟中感受我国民俗文化的魅力，让学生认识到清明节的内涵不仅是缅怀故人，祭奠先烈，还有亲近自然、珍爱生命的意味;不仅要传承尊老爱幼的孝文化，还要弘扬珍爱生命、呵护自然的精神。我们整个活动的设计安排是这样的：}
\conL[cb]{b7}{q7}
\Ns{q7a}{600}{4487}{723}{一、活动启动：宣传倡议}
\Nm{q7a1}{370}{4436}{577}{1、3月27日(星期五)班会课，我(班主任)向全班师生发出清明节活动倡议。}
\Nm{q7a2}{370}{4494}{577}{2、下发“告家长书”，动员家长一起积极参与学校的这个主题活动。}
\Ns{q7a3}{465}{4538}{577}{3、设计好活动的宣传栏}
\Ns{q7b}{600}{4886}{723}{二、活动内容：分层分块}
\Ns{q7b1}{478}{4640}{577}{1、清明历史的黑板报}
\Nm{q7b1a}{247}{4595}{455}{a.要求：通过活动使班级学生要对清明节有不同的了解。见附件一(具体如下)}
\Ns{q7b1b}{308}{4640}{455}{b.活动时间：3月30日—4月4日}
\Ns{q7b1c}{308}{4685}{455}{c.总负责人：班长、宣传委员。}
\Ns{q7b2}{500}{4856}{577}{2、做清明小食}
\Nm{q7b2a}{275}{4769}{485}{a.要求：通过在班级开展“做清明食——青团”实践活动，让学生了解清团的来由，明白清明与“寒食节”有着密切的关系。同时也培养学生的动手实践能力。}
\Ns{q7b2b}{380}{4813}{485}{b.活动时间：4月2日}
\Nm{q7b2c}{275}{4870}{485}{c.活动形式：在班主任和任课老师指导下，每生制作一个青团。品尝一个青团。}
\Ns{q7b2d}{410}{4944}{485}{d.活动准备：}
\Ns{q7b2d1}{268}{4915}{400}{⑴制作材料(生活委员负责)}
\Nm{q7b2d2}{186}{4973}{400}{⑵使学生明白吃青团的由来，见附件二。(班主任负责)}
\Ns{q7b3}{500}{5133}{577}{3、古诗词朗诵}
\Nm{q7b3a}{275}{5030}{485}{a.要求：通过诵读革命或清明的诗篇，增强学生的爱国热情。强化了革命传统教育。}
\Nm{q7b3b}{275}{5088}{485}{b.活动时间：3月30日—4月10日(早读课、自习课)}
\Ns{q7b3c}{348}{5133}{485}{c.活动总负责人：语文课代表}
\Ns{q7b3d}{410}{5177}{485}{d.活动形式：}
\Nm{q7b3e}{275}{5234}{485}{e.早读课：读学习过的2—3首革命古诗词。(内容结合清明，也可以是有关革命)}
\Nm[200]{q7b3et}{43}{5234}{275}{3月30日—4月10日期间的自习课进行古诗词的朗诵比赛。}
\foreach \k in {q7a,q7b}{\conL{q7}{\k}}
\foreach \k in {q7a1,q7a2,q7a3}{\conL{q7a}{\k}}
\foreach \k in {q7b1,q7b2,q7b3}{\conL{q7b}{\k}}
\foreach \k in {q7b1a,q7b1b,q7b1c}{\conL{q7b1}{\k}}
\foreach \k in {q7b2a,q7b2b,q7b2c,q7b2d}{\conL{q7b2}{\k}}
\foreach \k in {q7b2d1,q7b2d2}{\conL{q7b2d}{\k}}
\foreach \k in {q7b3a,q7b3b,q7b3c,q7b3d,q7b3e}{\conL{q7b3}{\k}}
% ================= 篇9
\Ns{q9a}{866}{5370}{949}{一、活动目的}
\Nm[202]{q9at}{648}{5370}{866}{清明节是我国人民缅怀先人，悼念逝者，寄托哀思的传统节日。为了引导居民移风易俗，以现代文明的理念、温馨和谐的方式开展祭祀活动，特开展“文明祭祀进社区”活动，通过宣传活动，从现在做起，从你我做起，从每个家庭做起，用文明祭祀的实际行动来保护我们的生活环境，大力倡导文明祭祀，积极营造“文明祭扫，平安清明”的节日氛围。}
\Ns{q9b}{866}{5415}{949}{二、活动主题}
\Ns{q9bt}{789}{5415}{866}{宣扬文明祭祀}
\Ns{q9c}{866}{5459}{949}{三、活动时间}
\Ns{q9ct}{763}{5459}{866}{3月29日上午9：00}
\Ns{q9d}{866}{5504}{949}{四、活动地点}
\Ns{q9dt}{666}{5504}{866}{x社区活动室(綮园居委会8:40集合电话：)}
\Ns{q9e}{866}{5600}{949}{五、活动形式}
\Nm[202]{q9et}{648}{5600}{866}{通过自制纸花、发放宣传单、悬挂标语条幅等形式，教育和引导社区居民转变观念、破除陋习，告别过去焚烧冥币、烧香祈福祭拜的旧有祭祀形式。以更加文明、健康、科学的方式缅怀故人。}
\Ns{q9f}{866}{5657}{949}{六、参加人员}
\Nm[202]{q9ft}{648}{5657}{866}{x小学四年级四班学生(为了安全起见，每位孩子必须有家长陪同)。}
\Ns{q9g}{875}{5773}{949}{七、活动要求}
\Nm{q9g1}{648}{5716}{862}{1、在活动中。各学生听从指挥、使用文明用语、不吵闹喧哗。}
\Nm{q9g2}{648}{5774}{862}{2、整理好相关资料，学校网站，群里上传(相片、总结)}
\Nm{q9g3}{648}{5831}{862}{3、由于是集体活动，请大家遵守时间，按照约定时间集合。}
\foreach \k in {q9a,q9b,q9c,q9d,q9e,q9f,q9g}{\conL[cb]{b9}{\k}}
\foreach \k in {q9g1,q9g2,q9g3}{\conL{q9g}{\k}}
\end{tikzpicture}
\end{document}
